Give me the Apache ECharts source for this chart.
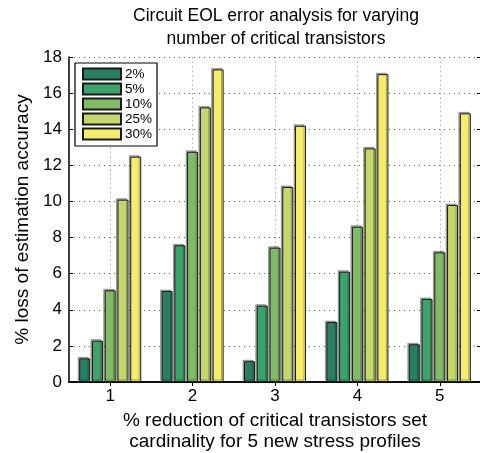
<!DOCTYPE html>
<html>
<head>
    <meta charset="utf-8">
    <style>
        html, body {
            height: 100%;
            margin: 0;
            padding: 0;
            background: #fff;
        }

        .container {
            width: 480px;
            height: 453px;
        }
    </style>
</head>
<body>
<div id="main" class="container"></div>

<script src="https://cdn.jsdelivr.net/npm/echarts@6/dist/echarts.min.js"></script>
<script type="text/javascript">
// data
var categories = ['1', '2', '3', '4', '5'];
var seriesNames = ['2%', '5%', '10%', '25%', '30%'];
var seriesColors = ['#2a7f62', '#3da36b', '#82bb67', '#c3d86c', '#f4ec6b'];
var values2 = [1.31, 5.04, 1.15, 3.32, 2.09];
var values5 = [2.29, 7.57, 4.23, 6.11, 4.60];
var values10 = [5.08, 12.75, 7.44, 8.60, 7.18];
var values25 = [10.10, 15.21, 10.80, 12.94, 9.80];
var values30 = [12.48, 17.31, 14.19, 17.05, 14.88];
var yTicks = [0, 2, 4, 6, 8, 10, 12, 14, 16, 18];

var font = 'Liberation Sans';
var allValues = [values2, values5, values10, values25, values30];

// helper axis at the top: half-step positions so that ticks/grid sit on category centres
var halfSteps = [];
for (var i = 0; i <= categories.length * 2; i++) {
    halfSteps.push(String(0.5 + i * 0.5));
}

var myChart = echarts.init(document.getElementById('main'), null, {renderer: 'canvas'});

var series = seriesNames.map(function (name, k) {
    return {
        name: name,
        type: 'bar',
        xAxisIndex: 0,
        yAxisIndex: 0,
        data: allValues[k],
        barWidth: 11,
        barGap: '16%',
        itemStyle: {
            color: seriesColors[k],
            borderColor: '#1a1a1a',
            borderWidth: 1,
            shadowColor: 'rgba(0,0,0,0.3)',
            shadowBlur: 0,
            shadowOffsetX: -1.5,
            shadowOffsetY: -1.5
        },
        emphasis: {disabled: true}
    };
});

var option = {
    animation: false,
    title: {
        text: 'Circuit EOL error analysis for varying\nnumber of critical transistors',
        left: 271,
        top: 0,
        textAlign: 'center',
        textStyle: {
            fontFamily: font,
            fontSize: 17.5,
            fontWeight: 'normal',
            color: '#000',
            lineHeight: 23
        }
    },
    legend: {
        data: seriesNames,
        orient: 'vertical',
        left: 75,
        top: 63,
        padding: [4, 5, 5, 7],
        icon: 'rect',
        itemWidth: 38,
        itemHeight: 11,
        itemGap: 1,
        backgroundColor: '#fff',
        borderColor: '#000',
        borderWidth: 1.2,
        borderRadius: 0,
        selectedMode: false,
        textStyle: {
            fontFamily: font,
            fontSize: 13.5,
            lineHeight: 11,
            color: '#000',
            padding: [0, 0, 0, -1]
        },
        itemStyle: {
            shadowColor: 'transparent'
        }
    },
    grid: {
        left: 69,
        right: -1,
        top: 57,
        bottom: 71,
        containLabel: false,
        outerBoundsMode: 'none'
    },
    xAxis: [
        {
            type: 'category',
            data: categories,
            position: 'bottom',
            name: '% reduction of critical transistors set\ncardinality for 5 new stress profiles',
            nameLocation: 'middle',
            nameGap: 28,
            nameTextStyle: {
                fontFamily: font,
                fontSize: 19,
                color: '#000',
                lineHeight: 21.5
            },
            axisLine: {lineStyle: {color: '#000', width: 1.5}},
            axisTick: {inside: true, alignWithLabel: true, length: 4, lineStyle: {color: '#000'}},
            axisLabel: {fontFamily: font, fontSize: 17, color: '#000', margin: 6},
            splitLine: {show: false}
        },
        {
            type: 'category',
            data: halfSteps,
            position: 'top',
            boundaryGap: false,
            axisLine: {lineStyle: {color: '#000', width: 1.5}},
            axisTick: {
                inside: true,
                length: 4,
                interval: function (idx) { return idx % 2 === 1; },
                lineStyle: {color: '#000'}
            },
            axisLabel: {show: false},
            splitLine: {
                show: true,
                interval: function (idx) { return idx % 2 === 1; },
                lineStyle: {color: '#b0b0b0', type: [1.5, 3], width: 1}
            }
        }
    ],
    yAxis: [
        {
            type: 'value',
            min: 0,
            max: 18,
            interval: 2,
            name: '% loss of estimation accuracy',
            nameLocation: 'middle',
            nameGap: 31,
            nameTextStyle: {
                fontFamily: font,
                fontSize: 19,
                color: '#000'
            },
            axisLine: {show: true, lineStyle: {color: '#000', width: 1.5}},
            axisTick: {show: true, inside: true, length: 4, lineStyle: {color: '#000'}},
            axisLabel: {
                fontFamily: font,
                fontSize: 17,
                color: '#000',
                margin: 7,
                formatter: function (v) { return yTicks.indexOf(v) >= 0 ? String(v) : ''; }
            },
            splitLine: {
                show: true,
                lineStyle: {color: '#666', type: [1, 4], width: 1}
            }
        },
        {
            type: 'value',
            min: 0,
            max: 18,
            interval: 2,
            position: 'right',
            axisLine: {show: true, lineStyle: {color: '#000', width: 1.5}},
            axisTick: {show: true, inside: true, length: 4, lineStyle: {color: '#000'}},
            axisLabel: {show: false},
            splitLine: {show: false}
        }
    ],
    series: series
};

myChart.setOption(option);
</script>
</body>
</html>
